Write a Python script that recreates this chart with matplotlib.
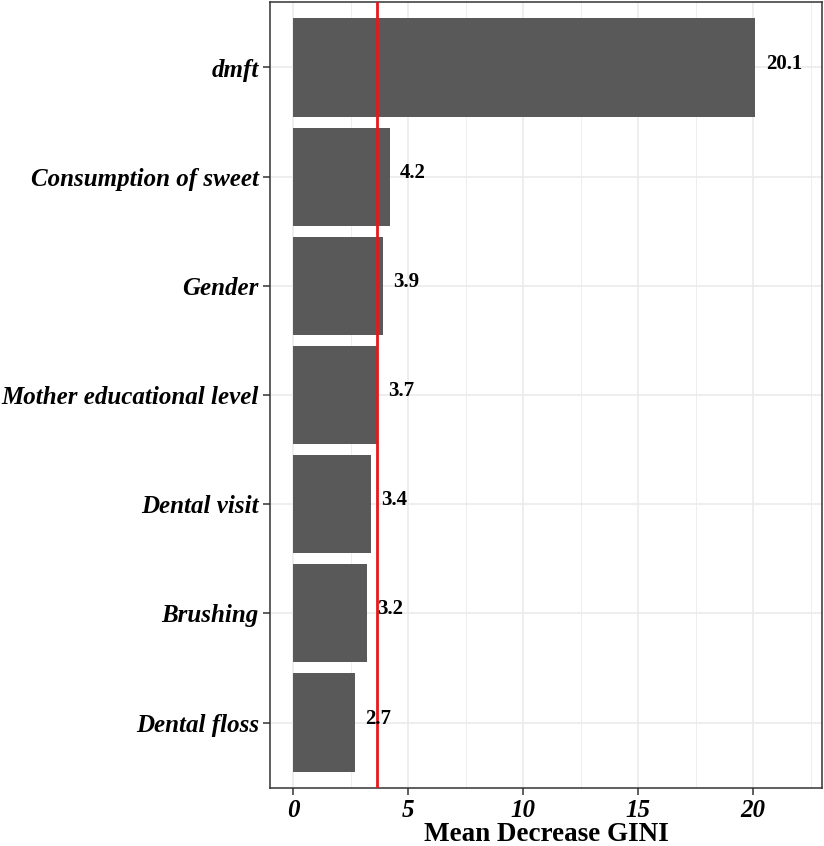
import matplotlib
matplotlib.use("Agg")
import matplotlib.pyplot as plt
from matplotlib.ticker import MultipleLocator

# data
features = ["dmft", "Consumption of sweet", "Gender", "Mother educational level",
            "Dental visit", "Brushing", "Dental floss"]
gini = [20.1, 4.2, 3.9, 3.7, 3.4, 3.2, 2.7]
labels = ["20.1", "4.2", "3.9", "3.7", "3.4", "3.2", "2.7"]
cutoff = 3.65
x_ticks = [0, 5, 10, 15, 20]

plt.rcParams["font.family"] = ["Liberation Serif", "DejaVu Serif"]

fig = plt.figure(figsize=(8.24, 8.46), dpi=100)
ax = fig.add_axes([270 / 824, 58 / 846, 552 / 824, 786 / 846])

# bottom-up order like ggplot coord_flip
ypos = list(range(len(features), 0, -1))

ax.barh(ypos, gini, height=0.9, color="#595959", zorder=2)
ax.axvline(cutoff, color="#e31a1c", lw=2, zorder=3)

for y, v, s in zip(ypos, gini, labels):
    ax.text(v + 0.45, y - 0.01, s, ha="left", va="baseline",
            fontsize=15, fontweight="bold", color="black", zorder=4)

ax.set_xlim(-1.0, 23.0)
ax.set_ylim(0.4, len(features) + 0.6)
ax.set_yticks(ypos)
ax.set_yticklabels(features, fontsize=18, fontweight="bold", fontstyle="italic")
ax.set_xticks(x_ticks)
ax.set_xticklabels([str(t) for t in x_ticks], fontsize=18, fontweight="bold",
                   fontstyle="italic")
ax.xaxis.set_minor_locator(MultipleLocator(2.5))
ax.set_xlabel("Mean Decrease GINI", fontsize=19.5, fontweight="bold", labelpad=0)

# theme_bw look
ax.grid(True, which="major", color="#ebebeb", lw=1.2, zorder=0)
ax.grid(True, which="minor", axis="x", color="#ebebeb", lw=0.6, zorder=0)
ax.set_axisbelow(True)
for sp in ax.spines.values():
    sp.set_color("#333333")
    sp.set_linewidth(1.1)
ax.tick_params(axis="both", which="major", length=5, width=1.1, color="#333333",
               labelcolor="black", pad=3)
ax.tick_params(axis="x", which="minor", length=0)

fig.savefig("out.png", dpi=100)
